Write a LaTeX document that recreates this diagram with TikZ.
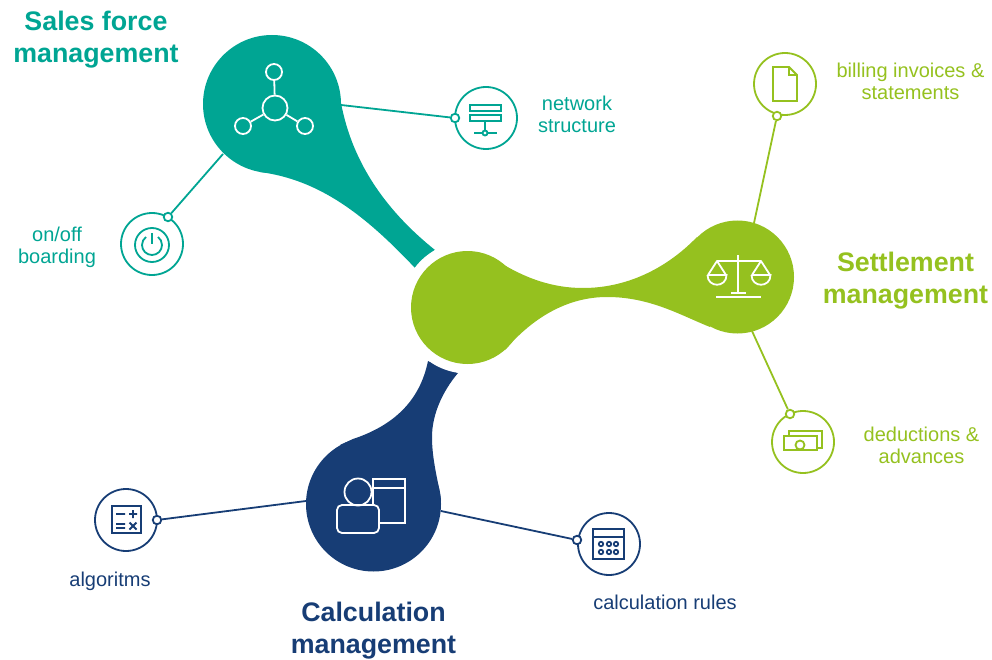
\documentclass[tikz,border=0pt]{standalone}
\usepackage{fontspec}
\setmainfont{Liberation Sans}
\definecolor{tealc}{HTML}{00A593}
\definecolor{greenc}{HTML}{95C11F}
\definecolor{navyc}{HTML}{173D75}
\tikzset{
  myhub/.style={shape=circle, fill=#1, inner sep=0pt},
  myring/.style={shape=circle, draw=#1, fill=white, line width=1.8pt, minimum size=62pt, inner sep=0pt},
  mydot/.style={shape=circle, draw=#1, fill=white, line width=1.8pt, minimum size=8.5pt, inner sep=0pt},
  mylink/.style={draw=#1, line width=1.8pt},
  myicon/.style={draw=#1, line width=1.8pt, fill=none},
  mybig/.style={text=#1, font=\fontsize{26.8}{32}\selectfont\bfseries, align=center},
  mylabel/.style={text=#1, font=\fontsize{20}{22}\selectfont, align=center},
  mynode/.style={shape=circle, draw=white, line width=1.8pt, fill=none, inner sep=0pt},
}
\begin{document}
\begin{tikzpicture}[x=1pt, y=-1pt]
  \useasboundingbox (0,0) rectangle (992,660);

  % the three blobs
  \node [myhub=tealc, minimum size=138pt] (sales) at (272,104) {};
  \fill [tealc] (340,97) .. controls (350,160) and (385,210) .. (435,250)
     -- (415,268) .. controls (365,215) and (320,180) .. (260,172) -- cycle;
  \node [myhub=navyc, minimum size=135pt] (calc) at (373.5,504) {};
  \fill [navyc] (428,361) .. controls (420,400) and (395,425) .. (353,439)
     -- (340,445) -- (441,500) .. controls (438,480) and (432,460) .. (432,437)
     .. controls (432,415) and (442,392) .. (458,373) -- cycle;
  \fill [white] (467.5,307.5) circle (66);
  \node [myhub=greenc, minimum size=113pt] (core) at (467.5,307.5) {};
  \node [myhub=greenc, minimum size=113pt] (settle) at (737.5,277) {};
  \fill [greenc] (490,256) .. controls (525,280) and (555,288) .. (583,288)
     .. controls (625,288) and (665,270) .. (697,237)
     -- (710,327) .. controls (680,315) and (650,297) .. (607,297)
     .. controls (570,297) and (535,315) .. (505,350) -- cycle;

  % rings
  \node [myring=tealc] (network) at (486,118) {};
  \node [myring=tealc] (onoff) at (152,244) {};
  \node [myring=greenc] (billing) at (785,84) {};
  \node [myring=greenc] (deduct) at (803,442) {};
  \node [myring=navyc] (algo) at (126,520) {};
  \node [myring=navyc] (rules) at (609,544) {};

  \node [mydot=tealc] (networkd) at (455,118) {};
  \node [mydot=tealc] (onoffd) at (168,217) {};
  \node [mydot=greenc] (billingd) at (777,116) {};
  \node [mydot=greenc] (deductd) at (790,414) {};
  \node [mydot=navyc] (algod) at (157,520) {};
  \node [mydot=navyc] (rulesd) at (577,540) {};

  \coordinate (salesr) at (341,105);
  \coordinate (salesl) at (223,154);
  \coordinate (settlet) at (754,223);
  \coordinate (settleb) at (752,331);
  \coordinate (calcl) at (306,501);
  \coordinate (calcr) at (441,511);

  \draw [mylink=tealc] (salesr) -- (networkd);
  \draw [mylink=tealc] (salesl) -- (onoffd);
  \draw [mylink=greenc] (settlet) -- (billingd);
  \draw [mylink=greenc] (settleb) -- (deductd);
  \draw [mylink=navyc] (calcl) -- (algod);
  \draw [mylink=navyc] (calcr) -- (rulesd);

  % sales icon
  \node [mynode, minimum size=25pt] (hubc) at (275,108) {};
  \node [mynode, minimum size=16pt] (hubt) at (274,72) {};
  \node [mynode, minimum size=16pt] (hubl) at (243,126) {};
  \node [mynode, minimum size=16pt] (hubr) at (305,126) {};
  \draw [myicon=white] (hubc) -- (hubt);
  \draw [myicon=white] (hubc) -- (hubl);
  \draw [myicon=white] (hubc) -- (hubr);

  % scales icon
  \draw [myicon=white] (738,255) -- (738,293) (717,261) -- (761,261)
     (731,293) -- (746,293) (716,297) -- (761,297);
  \foreach \px in {717,761} {
    \draw [myicon=white, line join=round] (\px-9,275) -- (\px,261) -- (\px+9,275);
    \draw [myicon=white] (\px-9.5,275) -- (\px+9.5,275) .. controls (\px+9.5,288) and (\px-9.5,288) .. (\px-9.5,275);
  }

  % person and sheet icon
  \draw [myicon=white] (358,492) circle (13.5);
  \draw [myicon=white, rounded corners=5pt] (337,505) rectangle (379,533);
  \draw [myicon=white] (373,505) -- (373,479) -- (405,479) -- (405,523) -- (379,523)
     (373,488) -- (405,488);

  % network icon
  \draw [myicon=tealc] (470,105) rectangle (501,111) (470,115) rectangle (501,121)
     (485,121) -- (485,130) (474,133) -- (482.5,133) (487.5,133) -- (497,133);
  \draw [myicon=tealc] (485,133) circle (2.5);

  % power icon
  \draw [myicon=tealc] (152,245) circle (17);
  \draw [myicon=tealc] (152,233) -- (152,244);
  \draw [myicon=tealc] (146,237) .. controls (143.6,238.8) and (142,241.7) .. (142,245)
     .. controls (142,250.5) and (146.5,255) .. (152,255)
     .. controls (157.5,255) and (162,250.5) .. (162,245)
     .. controls (162,241.7) and (160.4,238.8) .. (158,237);

  % document icon
  \draw [myicon=greenc] (789,67) -- (773,67) -- (773,101) -- (797,101) -- (797,75) -- cycle
     (789,67) -- (789,75) -- (797,75);

  % money icon
  \draw [myicon=greenc] (784,436) rectangle (817,450);
  \draw [myicon=greenc] (789,436) -- (789,431) -- (822,431) -- (822,448) -- (817,448);
  \draw [myicon=greenc] (800,445) circle (4.5);

  % sums icon
  \draw [myicon=navyc] (112,506) rectangle (141,533);
  \draw [myicon=navyc] (116,514) -- (125,514) (129,514) -- (137,514) (133,510) -- (133,518)
     (116,524) -- (125,524) (116,528) -- (125,528)
     (129.5,522.5) -- (136.5,529.5) (136.5,522.5) -- (129.5,529.5);

  % calendar icon
  \draw [myicon=navyc] (593,529) rectangle (624,559) (593,537) -- (624,537);
  \foreach \cx in {601,609,616}
    \foreach \cy in {544,552}
      \draw [myicon=navyc] (\cx,\cy) circle (2.2);

  % texts
  \node [mybig=tealc] (salest) at (96,40) {Sales force\\management};
  \node [mybig=greenc] (settlett) at (905.5,281) {Settlement\\management};
  \node [mybig=navyc] (calct) at (373.5,631) {Calculation\\management};
  \node [mylabel=tealc] (networkt) at (577,114.5) {network\\structure};
  \node [mylabel=tealc] (onofft) at (57,247) {on/off\\boarding};
  \node [mylabel=greenc] (billingt) at (910.5,81.5) {billing invoices \&\\statements};
  \node [mylabel=greenc] (deductt) at (921.5,445.5) {deductions \&\\advances};
  \node [mylabel=navyc] (algot) at (110,581) {algoritms};
  \node [mylabel=navyc] (rulest) at (665,602) {calculation rules};
\end{tikzpicture}
\end{document}
